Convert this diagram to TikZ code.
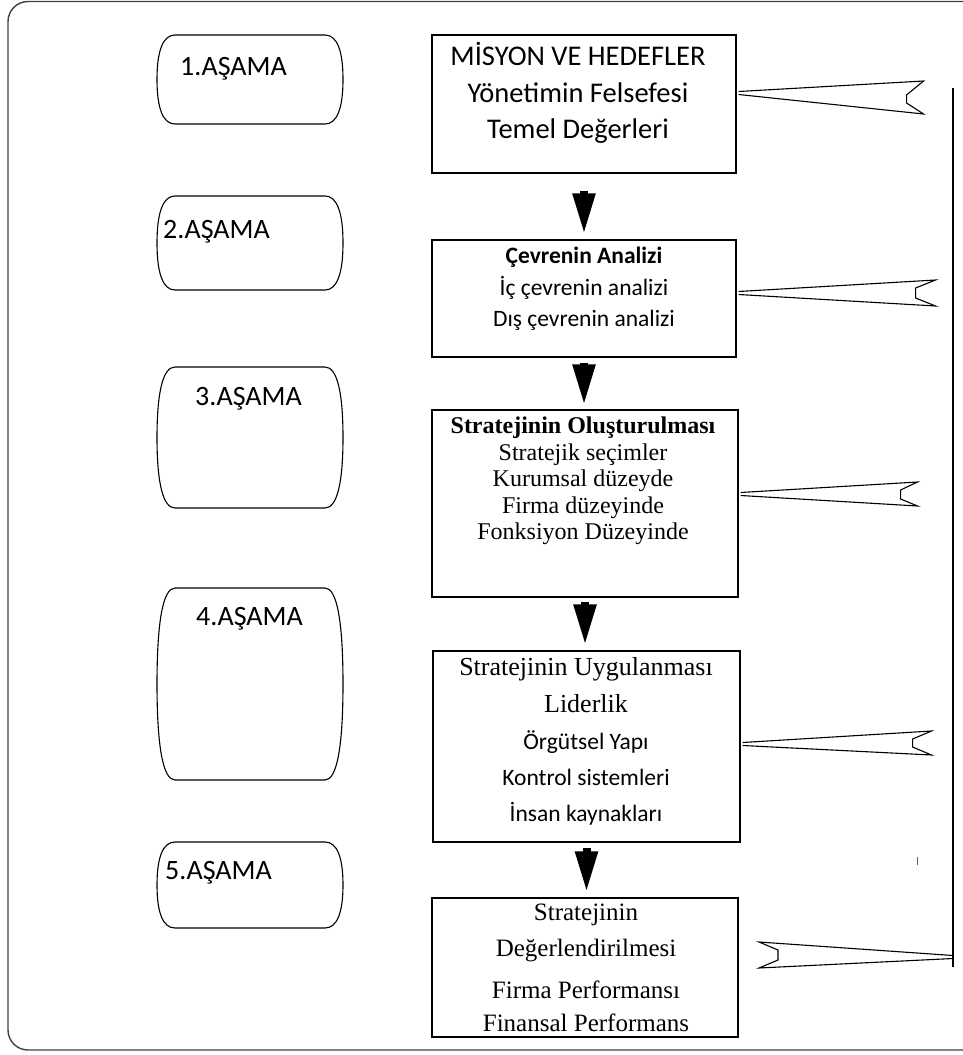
\documentclass[tikz,border=0pt]{standalone}
\usepackage{fontspec}
\setmainfont{Carlito}
\newfontfamily\tnr{Liberation Serif}
\usetikzlibrary{arrows.meta,calc}
\newcommand\stageshape[4]{%
  \pgfmathsetmacro\sm{(#2+#4)/2}%
  \pgfmathsetmacro\sk{0.35*(#4-#2)/2}%
  \draw[stageline] ({#1+18},#2) -- ({#3-18},#2)
    .. controls ({#3-6},#2) and (#3,{#2+\sk}) .. (#3,\sm)
    .. controls (#3,{#4-\sk}) and ({#3-6},#4) .. ({#3-18},#4)
    -- ({#1+18},#4)
    .. controls ({#1+6},#4) and (#1,{#4-\sk}) .. (#1,\sm)
    .. controls (#1,{#2+\sk}) and ({#1+6},#2) .. cycle;}
\begin{document}
\begin{tikzpicture}[x=1pt,y=-1pt,
  mainbox/.style={draw, line width=1.1pt, inner sep=0pt},
  txt/.style={anchor=base, inner sep=0pt},
  big/.style={font=\fontsize{28.5}{34}\selectfont},
  mid/.style={font=\fontsize{23.5}{28}\selectfont},
  midb/.style={font=\bfseries\fontsize{23.5}{28}\selectfont},
  tb/.style={font=\tnr\bfseries\fontsize{24}{28}\selectfont},
  tr/.style={font=\tnr\fontsize{24}{28}\selectfont},
  trl/.style={font=\tnr\fontsize{26}{30}\selectfont},
  trm/.style={font=\tnr\fontsize{25}{30}\selectfont},
  stagetxt/.style={anchor=base west, inner sep=0pt, font=\fontsize{28}{34}\selectfont},
  stageline/.style={line width=1.1pt},
  flagline/.style={line width=1.1pt, line join=miter},
  downarrow/.style={line width=8pt, -{Triangle[length=41pt,width=21pt]}},
]
\useasboundingbox (0,0) rectangle (962,1055);
% outer frame
\draw[line width=1.4pt, draw=black!75, rounded corners=20pt] (8,1.5) rectangle (1000,1050);

% stage boxes
\stageshape{157}{35}{343}{124}
\stageshape{157}{196}{343}{290}
\stageshape{157}{367}{343}{508}
\stageshape{157}{588}{343}{780}
\stageshape{157}{842}{343}{928}
\node[stagetxt] (s1) at (180,75) {1.AŞAMA};
\node[stagetxt] (s2) at (163,238) {2.AŞAMA};
\node[stagetxt] (s3) at (195,405) {3.AŞAMA};
\node[stagetxt] (s4) at (196,625) {4.AŞAMA};
\node[stagetxt] (s5) at (165,879) {5.AŞAMA};

% main boxes
\node[mainbox, minimum width=304pt, minimum height=138pt] (b1) at (584,104) {};
\node[mainbox, minimum width=304pt, minimum height=117pt] (b2) at (584,298.5) {};
\node[mainbox, minimum width=306pt, minimum height=187pt] (b3) at (585,503.5) {};
\node[mainbox, minimum width=307pt, minimum height=191pt] (b4) at (586.5,746.5) {};
\node[mainbox, minimum width=306pt, minimum height=139pt] (b5) at (585,967.5) {};

% texts
\node[txt, big] (t1a) at (578,65) {MİSYON VE HEDEFLER};
\node[txt, big] (t1b) at (578,102) {Yönetimin Felsefesi};
\node[txt, big] (t1c) at (578,138) {Temel Değerleri};

\node[txt, midb] (t2a) at (584,263) {Çevrenin Analizi};
\node[txt, mid] (t2b) at (584,295) {İç çevrenin analizi};
\node[txt, mid] (t2c) at (584,326) {Dış çevrenin analizi};

\node[txt, tb] (t3a) at (583,433) {Stratejinin Oluşturulması};
\node[txt, tr] (t3b) at (583,460) {Stratejik seçimler};
\node[txt, tr] (t3c) at (583,486) {Kurumsal düzeyde};
\node[txt, tr] (t3d) at (583,513) {Firma düzeyinde};
\node[txt, tr] (t3e) at (583,539) {Fonksiyon Düzeyinde};

\node[txt, trl] (t4a) at (586,675) {Stratejinin Uygulanması};
\node[txt, trl] (t4b) at (586,712) {Liderlik};
\node[txt, mid] (t4c) at (586,749) {Örgütsel Yapı};
\node[txt, mid] (t4d) at (586,785) {Kontrol sistemleri};
\node[txt, mid] (t4e) at (586,821) {İnsan kaynakları};

\node[txt, trm] (t5a) at (586,920) {Stratejinin};
\node[txt, trm] (t5b) at (586,956) {Değerlendirilmesi};
\node[txt, trm] (t5c) at (586,998) {Firma Performansı};
\node[txt, trm] (t5d) at (586,1031) {Finansal Performans};

% down arrows
\draw[downarrow, shorten <=17pt, shorten >=5pt] (b1.south) -- (b1.south |- b2.north);
\draw[downarrow, shorten <=5pt, shorten >=4pt] (b2.south) -- (b2.south |- b3.north);
\draw[downarrow, shorten <=4pt, shorten >=5pt] (b3.south) -- (b3.south |- b4.north);
\draw[downarrow, shorten <=5pt, shorten >=5pt] (b4.south) -- (b4.south |- b5.north);

% feedback line
\coordinate (vtop) at (953,88);
\coordinate (vbot) at (953,967);
\draw[line width=1.2pt] (vtop) -- (vbot);
\draw[line width=0.8pt, black!60] (917,857) -- (917,865);

% flags
\draw[flagline] ($(b1.east)+(2,-12.5)$) -- ++(185,-10.5) -- ++(-17,14) -- ++(0,8) -- ++(17,11) -- ($(b1.east)+(2,-9.5)$);
\draw[flagline] ($(b2.east)+(2,-7)$) -- ++(197,-11.5) -- ++(-20,8) -- ++(0,10) -- ++(20,8) -- ($(b2.east)+(2,-4)$);
\draw[flagline] ($(b3.east)+(2,-11)$) -- ++(177,-10.5) -- ++(-17,8) -- ++(0,9) -- ++(17,7) -- ($(b3.east)+(2,-8)$);
\draw[flagline] ($(b4.east)+(2,-4)$) -- ++(189,-11.5) -- ++(-19,8) -- ++(0,8) -- ++(19,8) -- ($(b4.east)+(2,-1)$);
\coordinate (f5) at (953,957);
\draw[flagline] ($(f5)+(0,-1.5)$) -- ++(-194,-13.5) -- ++(19,8) -- ++(0,10) -- ++(-19,8) -- ($(f5)+(0,1.5)$);
\end{tikzpicture}
\end{document}
